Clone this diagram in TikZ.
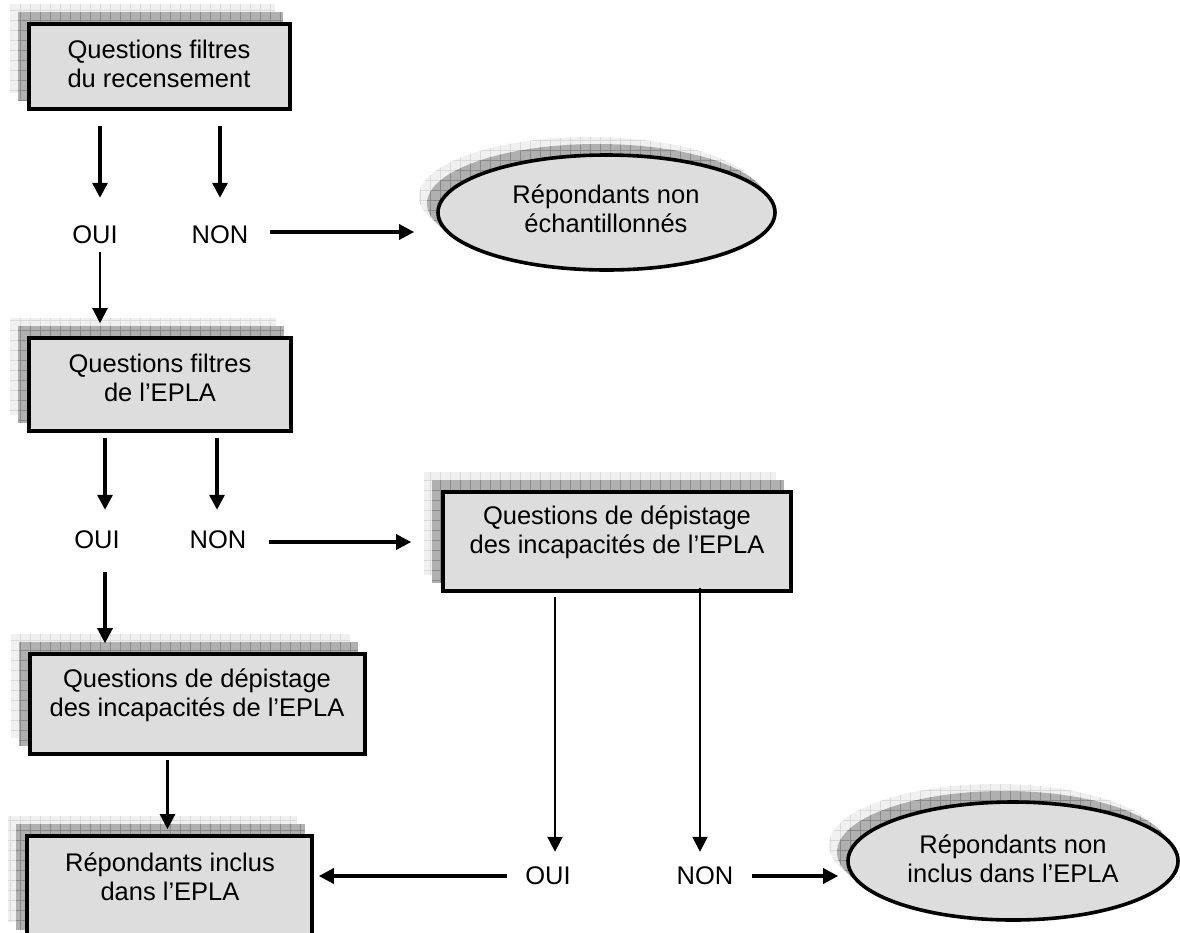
\documentclass[tikz,border=0pt]{standalone}
\usepackage{fontspec}
\setmainfont{Liberation Sans}
\usetikzlibrary{arrows.meta,calc,shapes.geometric}
\pgfdeclarelayer{bg}
\pgfsetlayers{bg,main}
\definecolor{boxgray}{HTML}{DDDDDD}
\definecolor{shdark}{HTML}{B0B0B0}
\definecolor{shdarkline}{HTML}{8A8A8A}
\definecolor{shlight}{HTML}{F0F0F0}
\definecolor{shlightline}{HTML}{DADADA}
\tikzset{
  boxstyle/.style={rectangle, draw=black, line width=3.6pt, fill=boxgray, inner sep=0pt},
  ellstyle/.style={ellipse, draw=black, line width=3.6pt, fill=boxgray, inner sep=0pt},
  txt/.style={font=\fontsize{25.5}{29}\selectfont, align=center, inner sep=0pt},
  lbl/.style={font=\fontsize{25.5}{29}\selectfont, inner sep=0pt},
  arr/.style={line width=3.2pt, -{Triangle[length=15pt,width=15pt]}},
  thinarr/.style={line width=2.2pt, -{Triangle[length=15pt,width=15pt]}},
  shadowdark/.style={fill=shdark, path picture={\draw[line width=0.6pt, shdarkline] (path picture bounding box.south west) grid[step=10pt] (path picture bounding box.north east);}},
  shadowlight/.style={fill=shlight, path picture={\draw[line width=0.6pt, shlightline] (path picture bounding box.south west) grid[step=10pt] (path picture bounding box.north east);}},
}
\begin{document}
\begin{tikzpicture}[x=1pt,y=-1pt]
\useasboundingbox (0,0) rectangle (1180,932);

% boxes and ellipses
\node[boxstyle, minimum width=261pt, minimum height=85pt] (b1) at (159.5,66.5) {};
\node[boxstyle, minimum width=262pt, minimum height=93pt] (b2) at (160,384.5) {};
\node[boxstyle, minimum width=348pt, minimum height=99pt] (bR) at (617,541.5) {};
\node[boxstyle, minimum width=335pt, minimum height=100pt] (b3) at (197.5,704) {};
\node[boxstyle, minimum width=285pt, minimum height=102pt] (b4) at (169.5,887) {};
\node[ellstyle, minimum width=337pt, minimum height=115pt] (e1) at (606.5,212.5) {};
\node[ellstyle, minimum width=330pt, minimum height=118pt] (e2) at (1013,861) {};

% shadows
\begin{pgfonlayer}{bg}
\foreach \b in {b1,b2,bR,b3,b4}{
  \path[shadowlight] ($(\b.south west)+(-17,-18)$) rectangle ($(\b.north east)+(-17,-18)$);
  \path[shadowdark] ($(\b.south west)+(-9,-10)$) rectangle ($(\b.north east)+(-9,-10)$);
}
\path[shadowlight] ($(e1.center)+(-17,-16)$) ellipse [x radius=170.5pt, y radius=59.5pt];
\path[shadowdark] ($(e1.center)+(-9,-9)$) ellipse [x radius=170.5pt, y radius=59.5pt];
\path[shadowlight] ($(e2.center)+(-17,-16)$) ellipse [x radius=167pt, y radius=61pt];
\path[shadowdark] ($(e2.center)+(-9,-9)$) ellipse [x radius=167pt, y radius=61pt];
\end{pgfonlayer}

% texts
\node[txt] (b1t) at (159,64) {Questions filtres\\du recensement};
\node[txt] (b2t) at (160,378) {Questions filtres\\de l’EPLA};
\node[txt] (bRt) at (617,532) {Questions de dépistage\\des incapacités de l’EPLA};
\node[txt] (b3t) at (197,695) {Questions de dépistage\\des incapacités de l’EPLA};
\node[txt] (b4t) at (170,877) {Répondants inclus\\dans l’EPLA};
\node[txt] (e1t) at (606,209) {Répondants non\\échantillonnés};
\node[txt] (e2t) at (1013,859) {Répondants non\\inclus dans l’EPLA};

% labels
\node[lbl] (oui1) at (95,235) {OUI};
\node[lbl] (non1) at (220,235) {NON};
\node[lbl] (oui2) at (97,540) {OUI};
\node[lbl] (non2) at (218,540) {NON};
\node[lbl] (oui3) at (548,876) {OUI};
\node[lbl] (non3) at (705,876) {NON};

% connectors
\draw[arr] ($(b1.south -| oui1)+(5,15)$) -- ($(oui1.north)+(5,-28)$);
\draw[arr] ($(b1.south -| non1)+(0,15)$) -- ($(non1.north)+(0,-28)$);
\draw[arr] ($(non1.east)+(21,-3)$) -- ($(e1.west |- non1)+(-22,-3)$);
\draw[thinarr] ($(oui1.south)+(5,8)$) -- ($(b2.north -| oui1)+(5,-13)$);
\draw[arr] ($(b2.south -| oui2)+(8,5)$) -- ($(oui2.north)+(8,-21)$);
\draw[arr] ($(b2.south -| non2)+(-1,5)$) -- ($(non2.north)+(-1,-21)$);
\draw[arr] ($(non2.east)+(22,2)$) -- ($(bR.west |- non2)+(-30,2)$);
\draw[arr] ($(oui2.south)+(8,23)$) -- ($(b3.north -| oui2)+(8,-9)$);
\draw[thinarr] ($(b3.south)+(-30,4)$) -- ($(b4.north -| b3.south)+(-30,-5)$);
\draw[thinarr] ($(bR.south -| oui3)+(7,4)$) -- ($(oui3.north)+(7,-15)$);
\draw[thinarr] ($(bR.south -| non3)+(-5,-5)$) -- ($(non3.north)+(-5,-15)$);
\draw[arr] ($(oui3.west)+(-18,0)$) -- ($(b4.east |- oui3)+(5,0)$);
\draw[arr] ($(non3.east)+(18,0)$) -- ($(e2.west |- non3)+(-8,0)$);
\end{tikzpicture}
\end{document}
